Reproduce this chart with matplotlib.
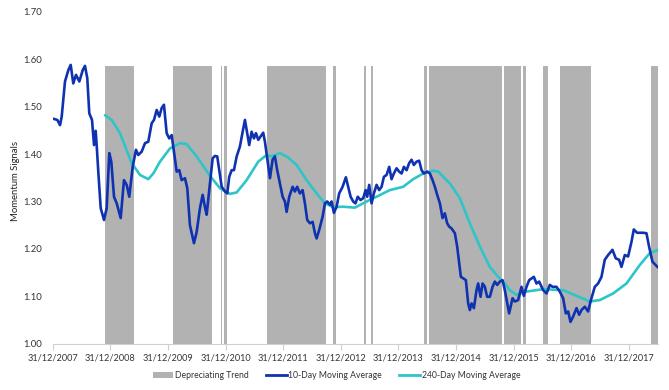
import matplotlib
matplotlib.use("Agg")
import matplotlib.pyplot as plt
from matplotlib.patches import Patch
from matplotlib.lines import Line2D

plt.rcParams["font.family"] = ["Lato", "DejaVu Sans"]

# 10-day moving average (decimal years, signal value)
ma10_x = [
    2008.023, 2008.080, 2008.127, 2008.156, 2008.213, 2008.271, 2008.312, 2008.357, 2008.404, 2008.462,
    2008.521, 2008.560, 2008.600, 2008.635, 2008.682, 2008.717, 2008.746, 2008.763, 2008.791, 2008.833,
    2008.890, 2008.937, 2008.982, 2009.017, 2009.064, 2009.111, 2009.180, 2009.237, 2009.284, 2009.329,
    2009.388, 2009.445, 2009.485, 2009.544, 2009.602, 2009.659, 2009.718, 2009.758, 2009.805, 2009.850,
    2009.891, 2009.931, 2009.978, 2010.023, 2010.065, 2010.105, 2010.152, 2010.197, 2010.238, 2010.296,
    2010.336, 2010.382, 2010.452, 2010.499, 2010.556, 2010.603, 2010.643, 2010.672, 2010.717, 2010.776,
    2010.816, 2010.856, 2010.891, 2010.933, 2010.990, 2011.030, 2011.064, 2011.106, 2011.146, 2011.193,
    2011.250, 2011.297, 2011.337, 2011.377, 2011.411, 2011.453, 2011.493, 2011.528, 2011.568, 2011.609,
    2011.654, 2011.684, 2011.724, 2011.771, 2011.817, 2011.857, 2011.897, 2011.944, 2011.991, 2012.031,
    2012.060, 2012.106, 2012.165, 2012.204, 2012.244, 2012.291, 2012.338, 2012.378, 2012.418, 2012.465,
    2012.512, 2012.552, 2012.581, 2012.626, 2012.685, 2012.725, 2012.765, 2012.812, 2012.841, 2012.881,
    2012.928, 2012.973, 2013.032, 2013.089, 2013.129, 2013.171, 2013.216, 2013.255, 2013.295, 2013.344,
    2013.390, 2013.431, 2013.459, 2013.494, 2013.535, 2013.575, 2013.622, 2013.667, 2013.709, 2013.749,
    2013.796, 2013.841, 2013.882, 2013.922, 2013.969, 2014.014, 2014.056, 2014.096, 2014.143, 2014.188,
    2014.229, 2014.269, 2014.316, 2014.361, 2014.403, 2014.443, 2014.500, 2014.547, 2014.594, 2014.634,
    2014.674, 2014.721, 2014.767, 2014.807, 2014.847, 2014.882, 2014.924, 2014.981, 2015.021, 2015.055,
    2015.085, 2015.125, 2015.172, 2015.212, 2015.241, 2015.271, 2015.311, 2015.357, 2015.385, 2015.427,
    2015.462, 2015.501, 2015.541, 2015.588, 2015.635, 2015.675, 2015.715, 2015.762, 2015.809, 2015.848,
    2015.923, 2015.982, 2016.022, 2016.079, 2016.138, 2016.178, 2016.225, 2016.270, 2016.352, 2016.398,
    2016.444, 2016.513, 2016.572, 2016.629, 2016.676, 2016.745, 2016.802, 2016.860, 2016.907, 2016.947,
    2016.988, 2017.033, 2017.093, 2017.138, 2017.179, 2017.237, 2017.294, 2017.336, 2017.410, 2017.467,
    2017.526, 2017.583, 2017.641, 2017.717, 2017.774, 2017.832, 2017.873, 2017.931, 2017.988, 2018.047,
    2018.087, 2018.144, 2018.248, 2018.307, 2018.352, 2018.411, 2018.451, 2018.498,
]
ma10_y = [
    1.474, 1.472, 1.461, 1.479, 1.553, 1.577, 1.588, 1.549, 1.567, 1.553,
    1.577, 1.586, 1.560, 1.486, 1.472, 1.419, 1.449, 1.419, 1.363, 1.286,
    1.261, 1.286, 1.402, 1.384, 1.310, 1.296, 1.265, 1.345, 1.335, 1.310,
    1.373, 1.409, 1.398, 1.405, 1.423, 1.426, 1.465, 1.472, 1.493, 1.479,
    1.497, 1.504, 1.444, 1.433, 1.440, 1.405, 1.363, 1.366, 1.345, 1.349,
    1.328, 1.250, 1.212, 1.236, 1.286, 1.314, 1.288, 1.272, 1.324, 1.391,
    1.396, 1.395, 1.366, 1.331, 1.321, 1.317, 1.352, 1.366, 1.366, 1.395,
    1.416, 1.447, 1.472, 1.444, 1.419, 1.447, 1.433, 1.444, 1.430, 1.437,
    1.445, 1.426, 1.391, 1.349, 1.388, 1.395, 1.366, 1.338, 1.310, 1.300,
    1.278, 1.310, 1.331, 1.321, 1.331, 1.317, 1.324, 1.296, 1.261, 1.254,
    1.257, 1.233, 1.222, 1.240, 1.268, 1.296, 1.300, 1.293, 1.300, 1.276,
    1.289, 1.317, 1.331, 1.351, 1.331, 1.310, 1.300, 1.296, 1.310, 1.303,
    1.307, 1.324, 1.310, 1.335, 1.296, 1.317, 1.335, 1.324, 1.331, 1.352,
    1.356, 1.373, 1.347, 1.359, 1.370, 1.363, 1.359, 1.373, 1.366, 1.381,
    1.388, 1.377, 1.384, 1.386, 1.366, 1.359, 1.363, 1.359, 1.345, 1.331,
    1.314, 1.296, 1.265, 1.275, 1.254, 1.247, 1.243, 1.233, 1.205, 1.170,
    1.141, 1.138, 1.134, 1.085, 1.071, 1.085, 1.075, 1.113, 1.127, 1.099,
    1.127, 1.120, 1.099, 1.099, 1.120, 1.131, 1.124, 1.131, 1.134, 1.113,
    1.064, 1.096, 1.089, 1.092, 1.120, 1.101, 1.120, 1.134, 1.141, 1.127,
    1.131, 1.113, 1.106, 1.124, 1.120, 1.120, 1.110, 1.096, 1.064, 1.068,
    1.046, 1.057, 1.075, 1.061, 1.071, 1.078, 1.068, 1.089, 1.120, 1.127,
    1.141, 1.177, 1.187, 1.198, 1.180, 1.177, 1.162, 1.187, 1.184, 1.215,
    1.241, 1.234, 1.234, 1.233, 1.205, 1.173, 1.168, 1.162,
]

# 240-day moving average
ma240_x = [
    2008.908, 2009.024, 2009.168, 2009.371, 2009.515, 2009.659, 2009.746, 2009.862, 2010.036, 2010.209,
    2010.325, 2010.499, 2010.730, 2010.903, 2011.076, 2011.193, 2011.366, 2011.568, 2011.713, 2011.800,
    2011.944, 2012.083, 2012.234, 2012.407, 2012.581, 2012.725, 2012.869, 2013.043, 2013.246, 2013.449,
    2013.622, 2013.853, 2014.084, 2014.257, 2014.431, 2014.604, 2014.691, 2014.894, 2015.067, 2015.241,
    2015.415, 2015.588, 2015.732, 2015.848, 2015.935, 2016.051, 2016.225, 2016.513, 2016.860, 2017.093,
    2017.323, 2017.497, 2017.728, 2017.960, 2018.191, 2018.365, 2018.509,
]
ma240_y = [
    1.482, 1.472, 1.444, 1.381, 1.356, 1.347, 1.359, 1.384, 1.412, 1.423,
    1.421, 1.395, 1.354, 1.328, 1.316, 1.319, 1.345, 1.384, 1.398, 1.395,
    1.402, 1.393, 1.377, 1.345, 1.317, 1.296, 1.288, 1.289, 1.287, 1.300,
    1.310, 1.324, 1.331, 1.347, 1.359, 1.365, 1.363, 1.338, 1.307, 1.254,
    1.205, 1.162, 1.141, 1.127, 1.113, 1.103, 1.110, 1.115, 1.113, 1.101,
    1.089, 1.092, 1.106, 1.127, 1.166, 1.191, 1.198,
]

# depreciating trend periods
trend_start = [2008.913, 2010.082, 2010.920, 2010.981, 2011.713, 2012.859, 2013.407, 2013.518,
               2014.443, 2014.535, 2015.826, 2016.161, 2016.513, 2016.803, 2018.377]
trend_end = [2009.411, 2010.764, 2010.946, 2011.024, 2012.742, 2012.916, 2013.431, 2013.553,
             2014.490, 2015.802, 2016.126, 2016.213, 2016.600, 2017.341, 2018.503]
trend_top = 1.585

tick_pos = list(range(2008, 2019))
tick_labels = ["31/12/%d" % (y - 1) for y in tick_pos]

grey = "#b2b2b2"
blue = "#0f32b0"
cyan = "#2ec5c8"

fig = plt.figure(figsize=(6.69, 3.90), dpi=100)
ax = fig.add_axes([0.0788, 0.1187, 0.905, 0.851])

for s, e in zip(trend_start, trend_end):
    ax.fill_between([s, e], 1.0, trend_top, color=grey, linewidth=0)

ax.plot(ma240_x, ma240_y, color=cyan, lw=1.9, solid_capstyle="round")
ax.plot(ma10_x, ma10_y, color=blue, lw=1.9, solid_joinstyle="round")

ax.set_xlim(2008.0, 2018.51)
ax.set_ylim(1.0, 1.7)
ax.set_yticks([1.0, 1.1, 1.2, 1.3, 1.4, 1.5, 1.6, 1.7])
ax.set_yticklabels(["%.2f" % v for v in ax.get_yticks()])
ax.set_xticks(tick_pos)
ax.set_xticklabels(tick_labels)

for side in ["top", "right", "left"]:
    ax.spines[side].set_visible(False)
ax.spines["bottom"].set_color("#d0d0d0")
ax.tick_params(axis="y", length=0, pad=8, labelsize=6.8, colors="#333333")
ax.tick_params(axis="x", length=4, color="#d0d0d0", pad=3, labelsize=6.6, labelcolor="#333333")

ax.set_ylabel("Momentum Signals", fontsize=6.8, color="#222222")
ax.yaxis.set_label_coords(-0.054, 0.49)

handles = [
    Patch(facecolor=grey, edgecolor="none"),
    Line2D([0], [0], color=blue, lw=2),
    Line2D([0], [0], color=cyan, lw=2),
]
labels = ["Depreciating Trend", "10-Day Moving Average", "240-Day Moving Average"]
fig.legend(handles, labels, loc="center", bbox_to_anchor=(0.503, 0.037), ncol=3,
           frameon=False, fontsize=6.2, handlelength=2.4, handleheight=0.6,
           columnspacing=2.0, handletextpad=0.2, labelcolor="#333333")

fig.savefig("out.png", dpi=100)
